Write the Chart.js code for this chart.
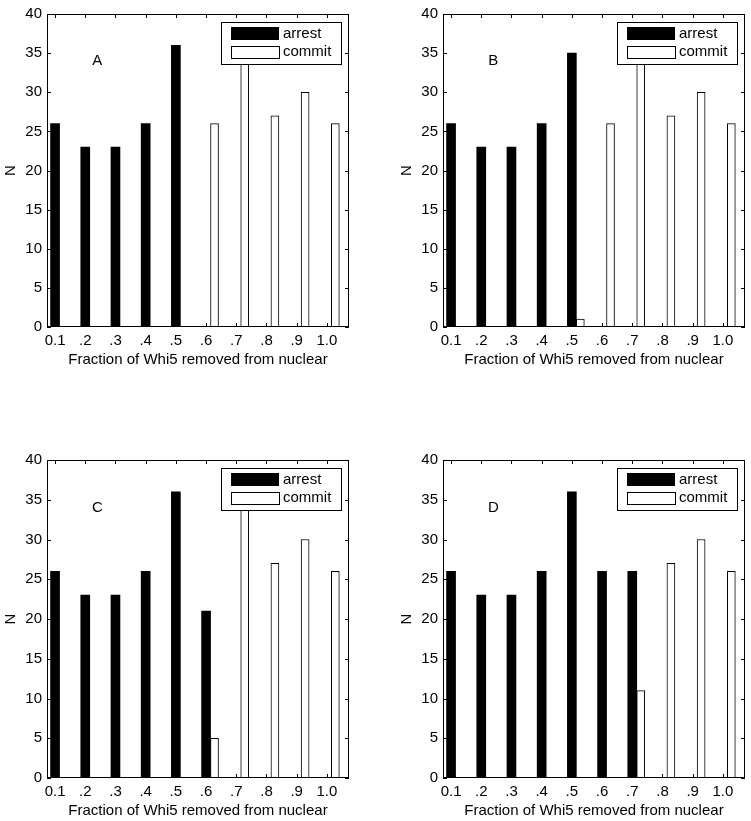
<!DOCTYPE html>
<html>
<head>
<meta charset="utf-8">
<script src="https://cdn.jsdelivr.net/npm/chart.js@4.4.0/dist/chart.umd.min.js"></script>
<style>
  body { margin:0; background:#fff; width:751px; height:821px; overflow:hidden; position:relative; }
  canvas { position:absolute; }
</style>
</head>
<body>
<canvas id="pA" width="355" height="410" style="left:0px;top:0px"></canvas>
<canvas id="pB" width="355" height="410" style="left:396px;top:0px"></canvas>
<canvas id="pC" width="355" height="375" style="left:0px;top:446px"></canvas>
<canvas id="pD" width="355" height="375" style="left:396px;top:446px"></canvas>
<script>
// ===== Data =====
const xValues = [0.1, 0.2, 0.3, 0.4, 0.5, 0.6, 0.7, 0.8, 0.9, 1.0];
const xLabels = ["0.1", ".2", ".3", ".4", ".5", ".6", ".7", ".8", ".9", "1.0"];
const yTicks  = [0, 5, 10, 15, 20, 25, 30, 35, 40];

// the .7 commit bar runs up behind the legend box (top hidden)
const arrestA = [26, 23, 23, 26, 36, 0, 0, 0, 0, 0];
const commitA = [0, 0, 0, 0, 0, 26, 37, 27, 30, 26];
const arrestB = [26, 23, 23, 26, 35, 0, 0, 0, 0, 0];
const commitB = [0, 0, 0, 0, 1, 26, 37, 27, 30, 26];
const arrestC = [26, 23, 23, 26, 36, 21, 0, 0, 0, 0];
const commitC = [0, 0, 0, 0, 0, 5, 37, 27, 30, 26];
const arrestD = [26, 23, 23, 26, 36, 26, 26, 0, 0, 0];
const commitD = [0, 0, 0, 0, 0, 0, 11, 27, 30, 26];

const seriesNames = ["arrest", "commit"];
const FONT = "'Liberation Sans', Arial, sans-serif";
const commitShift = 0.028;   // commit bar sits just right of the arrest bar

// ===== Frame, inward ticks, legend, panel letter =====
const framePlugin = {
  id: "frame",
  afterDraw(chart, args, opts) {
    const { ctx, chartArea: a, scales: { x, y } } = chart;
    ctx.save();
    ctx.strokeStyle = "#000"; ctx.lineWidth = 1;
    // inward ticks
    ctx.beginPath();
    yTicks.forEach(v => {
      const py = Math.round(y.getPixelForValue(v)) + 0.5;
      ctx.moveTo(a.left, py); ctx.lineTo(a.left + 4, py);
      ctx.moveTo(a.right, py); ctx.lineTo(a.right - 4, py);
    });
    xValues.forEach(v => {
      const px = Math.round(x.getPixelForValue(v)) + 0.5;
      ctx.moveTo(px, a.bottom); ctx.lineTo(px, a.bottom - 4);
      ctx.moveTo(px, a.top); ctx.lineTo(px, a.top + 4);
    });
    ctx.stroke();
    // box
    ctx.strokeRect(a.left + 0.5, a.top + 0.5, a.right - a.left - 1, a.bottom - a.top - 1);

    // legend
    const lw = 120, lh = 42;
    const lx = Math.round(a.right - 8 - lw), ly = Math.round(a.top + 8);
    ctx.fillStyle = "#fff"; ctx.fillRect(lx, ly, lw, lh);
    ctx.strokeRect(lx + 0.5, ly + 0.5, lw, lh);
    ctx.fillStyle = "#000"; ctx.fillRect(lx + 10, ly + 5, 48, 13);
    ctx.fillStyle = "#fff"; ctx.fillRect(lx + 10, ly + 24, 48, 12);
    ctx.strokeRect(lx + 10.5, ly + 24.5, 48, 12);
    ctx.fillStyle = "#000";
    ctx.font = "15px " + FONT;
    ctx.textAlign = "left"; ctx.textBaseline = "middle";
    ctx.fillText(seriesNames[0], lx + 62, ly + 12);
    ctx.fillText(seriesNames[1], lx + 62, ly + 30);

    // panel letter
    ctx.textAlign = "center";
    ctx.fillText(opts.letter, x.getPixelForValue(0.24), y.getPixelForValue(34));
    ctx.restore();
  }
};

function makePanel(id, letter, arrest, commit, plotH) {
  const canvas = document.getElementById(id);
  const H = canvas.height;
  new Chart(canvas, {
    type: "bar",
    data: {
      datasets: [
        { label: seriesNames[0], data: xValues.map((v, i) => ({ x: v, y: arrest[i] })),
          backgroundColor: "#000", borderColor: "#000", borderWidth: 0, barThickness: 9 },
        { label: seriesNames[1], data: xValues.map((v, i) => ({ x: v + commitShift, y: commit[i] })),
          backgroundColor: "#fff", borderColor: "#000", borderWidth: 1, borderSkipped: false, barThickness: 8 }
      ]
    },
    options: {
      responsive: false, animation: false, devicePixelRatio: 1,
      grouped: false,
      layout: { padding: { left: 0, top: 11, right: 6, bottom: H - 11 - plotH - 42 } },
      plugins: { legend: { display: false }, tooltip: { enabled: false }, frame: { letter: letter } },
      scales: {
        x: {
          type: "linear", min: 0.0733, max: 1.0733, offset: false,
          afterBuildTicks: s => { s.ticks = xValues.map(v => ({ value: v })); },
          afterFit: s => { s.height = 42; },
          grid: { display: false, drawTicks: false }, border: { display: false },
          ticks: { autoSkip: false, maxRotation: 0, padding: 5, color: "#000",
                   font: { family: FONT, size: 15 }, callback: (v, i) => xLabels[i] },
          title: { display: true, text: "Fraction of Whi5 removed from nuclear", color: "#000",
                   padding: 0, font: { family: FONT, size: 15 } }
        },
        y: {
          min: 0, max: 40,
          afterBuildTicks: s => { s.ticks = yTicks.map(v => ({ value: v })); },
          afterFit: s => { s.width = 47; },
          grid: { display: false, drawTicks: false }, border: { display: false },
          ticks: { padding: 5, color: "#000", font: { family: FONT, size: 15 } },
          title: { display: true, text: "N", color: "#000", padding: { top: 2, bottom: 0 },
                   font: { family: FONT, size: 15 } }
        }
      }
    },
    plugins: [framePlugin]
  });
}

makePanel("pA", "A", arrestA, commitA, 316);
makePanel("pB", "B", arrestB, commitB, 316);
makePanel("pC", "C", arrestC, commitC, 321);
makePanel("pD", "D", arrestD, commitD, 321);
</script>
</body>
</html>
